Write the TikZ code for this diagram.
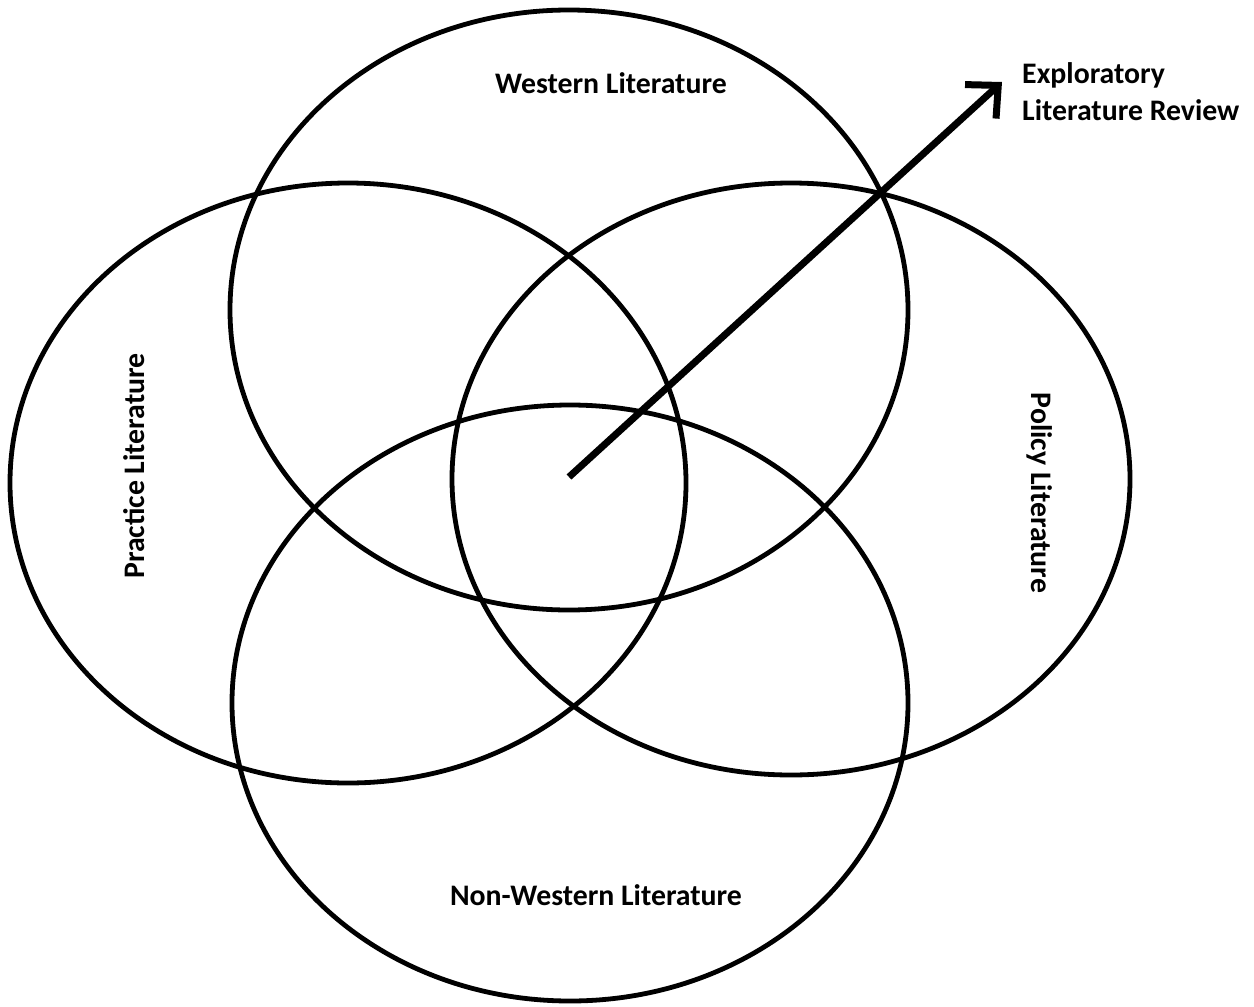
\documentclass[tikz,border=0pt]{standalone}
\usepackage{fontspec}
\setmainfont{Carlito}
\usetikzlibrary{arrows.meta}
\begin{document}
\begin{tikzpicture}[x=1pt,y=-1pt,
  venn/.style={line width=4.8pt},
  lbl/.style={font=\fontsize{29.8}{35}\selectfont\bfseries, inner sep=0pt},
  bigarrow/.style={line width=7pt, -{Straight Barb[length=24pt,width=46pt,line width=7pt]}}]
\useasboundingbox (0,0) rectangle (1254,1007);
\draw[venn] (569,310) ellipse [x radius=339, y radius=300];
\draw[venn] (348,483) ellipse [x radius=338, y radius=300];
\draw[venn] (791,479) ellipse [x radius=339, y radius=296];
\draw[venn] (570,703) ellipse [x radius=338, y radius=298];
\coordinate (start) at (569,477);
\coordinate (tip) at (1002,82);
\draw[bigarrow] (start) -- (tip);
\node[lbl] (west) at (611,83) {Western Literature};
\node[lbl, anchor=west] (expl1) at (1022,75) {Exploratory};
\node[lbl, anchor=west] (expl2) at (1022,110) {Literature Review};
\node[lbl, rotate=90] (prac) at (134,466) {Practice Literature};
\node[lbl, rotate=-90] (pol) at (1040,493) {Policy Literature};
\node[lbl] (nonwest) at (596,895) {Non-Western Literature};
\end{tikzpicture}
\end{document}
